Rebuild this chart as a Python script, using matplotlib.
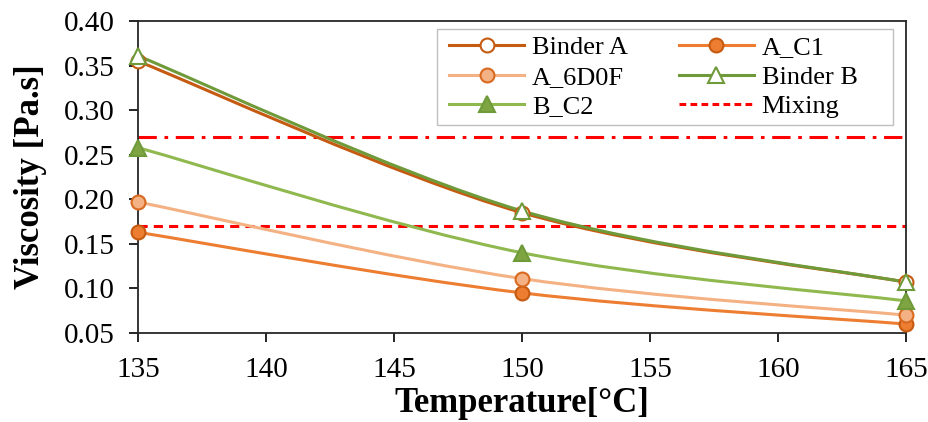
import numpy as np
import matplotlib
matplotlib.use("Agg")
import matplotlib.pyplot as plt
from matplotlib.path import Path
from matplotlib.patches import PathPatch, Rectangle
from matplotlib.lines import Line2D

plt.rcParams["font.family"] = ["Liberation Serif", "DejaVu Serif"]

# Temperatures and measured viscosities
temperature = [135, 150, 165]
binder_a = [0.355, 0.185, 0.107]
a_c1 = [0.163, 0.095, 0.060]
a_6d0f = [0.197, 0.111, 0.070]
binder_b = [0.361, 0.187, 0.107]
b_c2 = [0.258, 0.140, 0.086]
mixing_level = 0.17
compaction_level = 0.27

series = [
    ("Binder A", binder_a, dict(color="#C55A11", marker="o", ms=10, mfc="white", mec="#C55A11")),
    ("A_C1", a_c1, dict(color="#ED7D31", marker="o", ms=10, mfc="#ED7D31", mec="#C55A11")),
    ("A_6D0F", a_6d0f, dict(color="#F4B183", marker="o", ms=10, mfc="#F4B183", mec="#D9691F")),
    ("Binder B", binder_b, dict(color="#6F9A3A", marker="^", ms=11, mfc="white", mec="#6F9A3A")),
    ("B_C2", b_c2, dict(color="#8FB94F", marker="^", ms=11, mfc="#7FA542", mec="#6F9A3A")),
]


def smooth_path(xs, ys):
    """Catmull-Rom style smoothed path through the points (Excel-like)."""
    pts = np.column_stack([xs, ys]).astype(float)
    n = len(pts)
    verts = [pts[0]]
    codes = [Path.MOVETO]
    for i in range(n - 1):
        p0 = pts[i - 1] if i > 0 else pts[i]
        p1 = pts[i]
        p2 = pts[i + 1]
        p3 = pts[i + 2] if i + 2 < n else pts[i + 1]
        c1 = p1 + (p2 - p0) / 6.0
        c2 = p2 - (p3 - p1) / 6.0
        verts += [c1, c2, p2]
        codes += [Path.CURVE4] * 3
    return Path(verts, codes)


fig = plt.figure(figsize=(9.29, 4.22), dpi=100)
ax = fig.add_axes([0.1485, 0.211, 0.8267, 0.739])

lw = 2.2
handles = []
for label, vals, st in series:
    patch = PathPatch(smooth_path(temperature, vals), facecolor="none",
                      edgecolor=st["color"], lw=lw, zorder=3)
    ax.add_patch(patch)
for label, vals, st in series:
    ax.plot(temperature, vals, linestyle="none", marker=st["marker"], ms=st["ms"],
            mfc=st["mfc"], mec=st["mec"], mew=1.5, zorder=4, clip_on=False)
    handles.append(Line2D([], [], color=st["color"], lw=lw, marker=st["marker"],
                          ms=st["ms"], mfc=st["mfc"], mec=st["mec"], mew=1.5))

ax.axhline(mixing_level, color="#FF0000", lw=2.2, ls=(0, (3, 2)), zorder=2)
ax.axhline(compaction_level, color="#FF0000", lw=2.2, ls=(0, (6, 2.5, 1.2, 2.5)), zorder=2)
handles.insert(5, Line2D([], [], color="#FF0000", lw=2.2, ls=(0, (2.2, 1.4))))

# Legend frame (wider on the right, like the original chart tool)
frame = Rectangle((0.389, 0.668), 0.594, 0.306, transform=ax.transAxes,
                  facecolor="white", edgecolor="#BFBFBF", lw=1.0, zorder=5)
ax.add_patch(frame)

order = [0, 2, 4, 1, 3, 5]
labels = ["Binder A", "A_C1", "A_6D0F", "Binder B", "B_C2", "Mixing"]
leg = ax.legend([handles[i] for i in order], [labels[i] for i in order],
                ncol=2, loc="center", bbox_to_anchor=(0.671, 0.8205),
                fontsize=19, frameon=False,
                handlelength=2.84, handletextpad=0.3, columnspacing=1.93,
                labelspacing=0.23, borderpad=0.0, borderaxespad=0.0)
leg.set_zorder(6)

ax.set_xlim(135, 165)
ax.set_ylim(0.05, 0.40)
ax.set_xticks(np.arange(135, 166, 5))
ax.set_yticks(np.arange(0.05, 0.401, 0.05))
ax.yaxis.set_major_formatter(matplotlib.ticker.FormatStrFormatter("%.2f"))
ax.tick_params(direction="out", length=6.5, width=1.2, labelsize=21, colors="black")
ax.tick_params(axis="x", pad=11)
ax.tick_params(axis="y", pad=10)
for sp in ax.spines.values():
    sp.set_linewidth(1.3)
    sp.set_color("#262626")

ax.set_xlabel("Temperature[°C]", fontsize=25, fontweight="bold", labelpad=3)
ax.set_ylabel("Viscosity [Pa.s]", fontsize=25, fontweight="bold", labelpad=12)

fig.savefig("out.png", dpi=100)
